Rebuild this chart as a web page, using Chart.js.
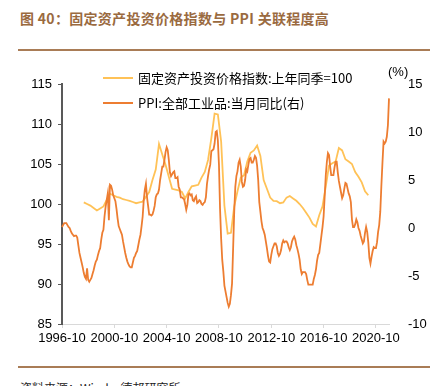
<!DOCTYPE html>
<html>
<head>
<meta charset="utf-8">
<script src="https://cdn.jsdelivr.net/npm/chart.js@4.4.0/dist/chart.umd.min.js"></script>
<style>
  body { margin: 0; width: 437px; height: 386px; overflow: hidden; background: #fff; position: relative; }
  .title { position: absolute; left: 20px; top: 10px; font: bold 14px "Noto Sans CJK SC", sans-serif; line-height: 16px; color: #9a6a3f; letter-spacing: 0.3px; white-space: nowrap; }
  .rule { position: absolute; left: 18px; width: 412px; height: 2px; background: #a97c56; }
  .source { position: absolute; left: 20px; top: 381px; font: 12px "Noto Sans CJK SC", sans-serif; line-height: 14px; color: #222; white-space: nowrap; }
  #wrap { position: absolute; left: 0; top: 55px; width: 437px; height: 300px; }
</style>
</head>
<body>
<div class="title">图 40：固定资产投资价格指数与 PPI 关联程度高</div>
<div class="rule" style="top:49px"></div>
<div id="wrap"><canvas id="chart" width="437" height="300"></canvas></div>
<div class="rule" style="top:366px"></div>
<div class="source">资料来源：Wind，德邦研究所</div>

<script>
// monthly axis: 1996-10 .. 2021-10
const startYear = 1996, startMonth = 10, monthCount = 301;
const months = [];
for (let k = 0; k < monthCount; k++) {
    const m = startMonth - 1 + k;
    const y = startYear + Math.floor(m / 12);
    const mm = (m % 12) + 1;
    months.push(y + '-' + (mm < 10 ? '0' + mm : mm));
}

// PPI: 全部工业品: 当月同比 (%), right axis
const ppiValues = [
    0.1, 0.3, 0.5,                                                    // 1996 Oct-Dec
    0.5, 0.5, 0.3, 0.1, 0.0, -0.3, -0.55, -0.7, -0.85, -0.8, -0.8, -1.0, // 1997
    -1.8, -2.6, -3.1, -3.6, -4.1, -4.7, -5.1, -5.3, -4.2, -5.4, -5.6, -5.4, // 1998
    -5.2, -4.8, -4.4, -3.9, -3.5, -3.3, -2.8, -2.4, -2.1, -1.2, -0.5, -0.2, // 1999
    1.2, 2.2, 2.9, 3.6, 0.8, 4.5, 4.4, 4.0, 3.4, 3.1, 2.8, 2.0,       // 2000
    1.0, 0.2, -0.1, -0.4, -0.7, -1.4, -2.0, -2.6, -3.1, -3.5, -3.8, -4.0, // 2001
    -4.1, -4.1, -3.6, -3.1, -2.9, -2.6, -2.4, -1.8, -1.2, -0.7, 0.2, 1.2, // 2002
    2.9, 4.0, 4.6, 3.2, 2.3, 1.4, 1.4, 1.3, 1.4, 1.8, 2.3, 3.2,       // 2003
    3.5, 3.6, 4.0, 5.0, 5.7, 6.4, 6.4, 7.1, 7.9, 8.4, 8.1, 7.1,       // 2004
    5.8, 5.4, 5.6, 5.8, 5.9, 5.2, 5.2, 5.3, 4.3, 4.0, 3.2, 3.2,       // 2005
    3.1, 3.0, 2.5, 1.9, 2.4, 3.5, 3.6, 3.4, 3.5, 2.9, 2.8, 3.1,       // 2006
    3.3, 2.6, 2.7, 2.9, 2.8, 2.5, 2.4, 2.6, 2.7, 3.2, 4.6, 5.4,       // 2007
    6.1, 6.6, 8.0, 8.1, 8.2, 8.8, 10.0, 10.1, 9.1, 6.6, 2.0, -1.1,    // 2008
    -3.3, -4.5, -6.0, -6.6, -7.2, -7.8, -8.2, -7.9, -7.0, -5.8, -2.1, 1.7, // 2009
    4.3, 5.4, 5.9, 6.8, 7.1, 6.4, 4.8, 4.3, 4.4, 5.0, 6.1, 5.9,       // 2010
    6.6, 7.2, 7.3, 6.8, 6.8, 7.1, 7.5, 7.3, 6.5, 5.0, 2.7, 1.7,       // 2011
    0.7, 0.0, -0.3, -0.7, -1.4, -2.1, -2.9, -3.5, -3.6, -2.8, -2.2, -1.9, // 2012
    -1.6, -1.6, -1.9, -2.6, -2.9, -2.7, -2.3, -1.6, -1.3, -1.5, -1.4, -1.4, // 2013
    -1.6, -2.0, -2.3, -2.0, -1.4, -1.1, -0.9, -1.2, -1.8, -2.2, -2.7, -3.3, // 2014
    -4.3, -4.8, -4.6, -4.6, -4.6, -4.8, -5.4, -5.9, -5.9, -5.9, -5.9, -5.9, // 2015
    -5.3, -4.9, -4.3, -3.4, -2.8, -2.6, -1.7, -0.8, 0.1, 1.2, 3.3, 5.5, // 2016
    6.9, 7.8, 7.6, 6.4, 5.5, 5.5, 5.5, 6.3, 6.9, 6.9, 5.8, 4.9,       // 2017
    4.3, 3.7, 3.1, 3.4, 4.1, 4.7, 4.6, 4.1, 3.6, 3.3, 2.7, 0.9,       // 2018
    0.1, 0.1, 0.4, 0.9, 0.6, 0.0, -0.3, -0.8, -1.2, -1.6, -1.4, -0.5, // 2019
    0.1, -0.4, -1.5, -3.1, -3.7, -3.0, -2.4, -2.0, -2.1, -2.1, -1.5, -0.4, // 2020
    0.3, 1.7, 4.4, 6.8, 9.0, 8.8, 9.0, 9.5, 10.7, 13.5               // 2021 Jan-Oct
];

// 固定资产投资价格指数: 上年同季=100, quarterly, left axis
const faiMonths = [
    '1998-06', '1998-09', '1998-12',
    '1999-03', '1999-06', '1999-09', '1999-12',
    '2000-03', '2000-06', '2000-09', '2000-12',
    '2001-03', '2001-06', '2001-09', '2001-12',
    '2002-03', '2002-06', '2002-09', '2002-12',
    '2003-03', '2003-06', '2003-09', '2003-12',
    '2004-03', '2004-06', '2004-09', '2004-12',
    '2005-03', '2005-06', '2005-09', '2005-12',
    '2006-03', '2006-06', '2006-09', '2006-12',
    '2007-03', '2007-06', '2007-09', '2007-12',
    '2008-03', '2008-06', '2008-09', '2008-12',
    '2009-03', '2009-06', '2009-09', '2009-12',
    '2010-03', '2010-06', '2010-09', '2010-12',
    '2011-03', '2011-06', '2011-09', '2011-12',
    '2012-03', '2012-06', '2012-09', '2012-12',
    '2013-03', '2013-06', '2013-09', '2013-12',
    '2014-03', '2014-06', '2014-09', '2014-12',
    '2015-03', '2015-06', '2015-09', '2015-12',
    '2016-03', '2016-06', '2016-09', '2016-12',
    '2017-03', '2017-06', '2017-09', '2017-12',
    '2018-03', '2018-06', '2018-09', '2018-12',
    '2019-03', '2019-06', '2019-09', '2019-12',
    '2020-03'
];
const faiValues = [
    100.2, 100.0, 99.8,
    99.5, 99.2, 99.45, 99.7,
    100.5, 101.3, 101.1, 100.9,
    100.8, 100.6, 100.5, 100.4,
    100.25, 100.1, 100.2, 100.3,
    100.9, 101.5, 103.0, 104.3,
    107.5, 106.2, 104.9, 103.4,
    101.9, 101.8, 101.7, 101.5,
    100.7, 101.5, 102.2, 102.3,
    102.4, 103.3, 104.0, 105.5,
    108.2, 111.3, 111.2, 107.8,
    99.8, 96.3, 96.4, 99.7,
    101.6, 103.3, 103.6, 105.3,
    106.4, 106.7, 107.3, 106.0,
    103.0, 101.9, 100.8, 100.4,
    100.35, 100.1, 100.2, 100.8,
    101.0, 100.7, 100.4, 100.0,
    99.5, 98.9, 98.3, 97.5,
    97.2, 98.6, 99.7, 102.2,
    104.8, 105.1, 105.3, 107.0,
    106.7, 105.6, 105.3, 105.0,
    104.0, 103.4, 102.7, 101.6,
    101.1
];

const leftTicks = [85, 90, 95, 100, 105, 110, 115];
const rightTicks = [-10, -5, 0, 5, 10, 15];
const seriesNames = ['固定资产投资价格指数:上年同季=100', 'PPI:全部工业品:当月同比(右)'];
const colors = ['#ffc257', '#ed7d31'];

// place the quarterly points on the monthly axis
const faiSeries = months.map(() => null);
faiMonths.forEach((m, k) => { faiSeries[months.indexOf(m)] = faiValues[k]; });

const numFont = { family: '"Liberation Sans", Arial, sans-serif', size: 13 };

// legend + unit label drawn inside the top of the plot
const overlay = {
    id: 'overlay',
    afterDraw(chart) {
        const ctx = chart.ctx;
        ctx.save();
        [23, 48].forEach((y, k) => {
            ctx.strokeStyle = colors[k];
            ctx.lineWidth = 2;
            ctx.beginPath();
            ctx.moveTo(103, y);
            ctx.lineTo(133, y);
            ctx.stroke();
            ctx.fillStyle = '#000';
            ctx.font = '13px "Noto Sans CJK SC", sans-serif';
            ctx.textBaseline = 'middle';
            ctx.fillText(seriesNames[k], 138, y);
        });
        ctx.font = '13px "Liberation Sans", Arial, sans-serif';
        ctx.fillText('(%)', 388, 17);
        ctx.restore();
    }
};

new Chart(document.getElementById('chart').getContext('2d'), {
    type: 'line',
    data: {
        labels: months,
        datasets: [
            {
                label: seriesNames[1],
                data: ppiValues,
                yAxisID: 'y1',
                borderColor: colors[1],
                borderWidth: 1.8,
                pointRadius: 0,
                tension: 0,
                order: 0
            },
            {
                label: seriesNames[0],
                data: faiSeries,
                yAxisID: 'y',
                borderColor: colors[0],
                borderWidth: 1.8,
                pointRadius: 0,
                tension: 0,
                spanGaps: true,
                order: 1
            }
        ]
    },
    options: {
        responsive: false,
        animation: false,
        devicePixelRatio: 1,
        layout: { padding: { top: 29, left: 0, right: 0, bottom: 0 } },
        plugins: { legend: { display: false }, tooltip: { enabled: false } },
        scales: {
            x: {
                type: 'category',
                offset: false,
                afterFit: s => { s.height = 31; },
                grid: { drawOnChartArea: false, drawTicks: true, tickLength: 4, color: '#d9d9d9' },
                border: { color: '#d9d9d9', width: 1 },
                ticks: {
                    autoSkip: false,
                    maxRotation: 0,
                    padding: 3,
                    color: '#000',
                    font: numFont,
                    callback: (v, i) => (i % 48 === 0 ? months[i] : null)
                }
            },
            y: {
                position: 'left',
                min: 85,
                max: 115,
                afterFit: s => { s.width = 62; },
                afterBuildTicks: s => { s.ticks = leftTicks.map(v => ({ value: v })); },
                grid: { drawOnChartArea: false, drawTicks: true, tickLength: 4, color: '#595959' },
                border: { color: '#595959', width: 2 },
                ticks: { padding: 6, color: '#000', font: numFont }
            },
            y1: {
                position: 'right',
                min: -10,
                max: 15,
                afterFit: s => { s.width = 48; },
                afterBuildTicks: s => { s.ticks = rightTicks.map(v => ({ value: v })); },
                grid: { display: false },
                border: { display: false },
                ticks: { padding: 11, color: '#000', font: numFont }
            }
        }
    },
    plugins: [overlay]
});
</script>
</body>
</html>
